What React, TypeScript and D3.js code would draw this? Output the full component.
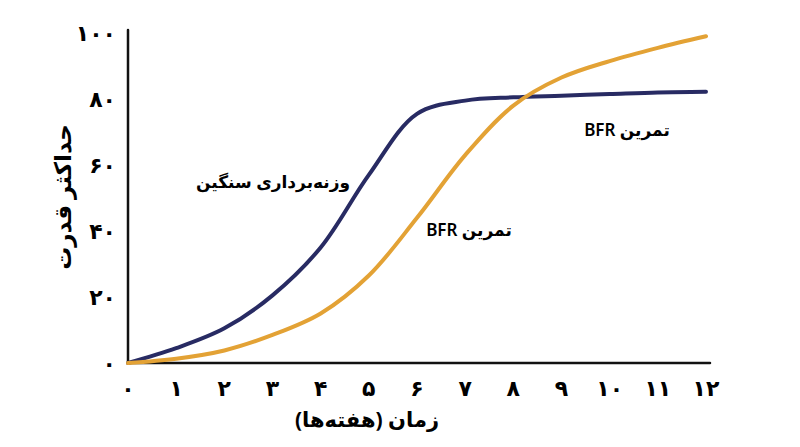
import { useEffect, useRef } from "react";
import * as d3 from "d3";

const weeks = [0, 1, 2, 3, 4, 5, 6, 7, 8, 9, 10, 11, 12];
const heavyLifting = [0, 4.5, 10.5, 20.5, 35, 57, 75.5, 79.5, 80.5, 81, 81.5, 82, 82.2];
const bfrTraining = [0, 1.3, 3.8, 8.5, 15, 26.5, 44, 63, 78, 86.5, 91.5, 95.5, 99];
const xTickLabels = ["۰", "۱", "۲", "۳", "۴", "۵", "۶", "۷", "۸", "۹", "۱۰", "۱۱", "۱۲"];
const yTicks = [0, 20, 40, 60, 80, 100];
const yTickLabels = ["۰", "۲۰", "۴۰", "۶۰", "۸۰", "۱۰۰"];

const FONT = "'Noto Sans', 'DejaVu Sans', sans-serif";

export default function App() {
  const ref = useRef<SVGSVGElement>(null);

  useEffect(() => {
    const svg = d3.select(ref.current);
    svg.selectAll("*").remove();
    const width = 800;
    const height = 447;
    svg.attr("width", width).attr("height", height);

    const x = d3.scaleLinear().domain([0, 12]).range([128, 706]);
    const y = d3.scaleLinear().domain([0, 100]).range([363, 33]);

    // axes (plain lines, no tick marks)
    svg
      .append("line")
      .attr("x1", x(0))
      .attr("x2", x(0))
      .attr("y1", y(100) - 3)
      .attr("y2", y(0))
      .attr("stroke", "#111")
      .attr("stroke-width", 2.5)
      .attr("stroke-linecap", "round");
    svg
      .append("line")
      .attr("x1", x(0))
      .attr("x2", x(12) + 4)
      .attr("y1", y(0))
      .attr("y2", y(0))
      .attr("stroke", "#111")
      .attr("stroke-width", 2.5)
      .attr("stroke-linecap", "round");

    svg
      .append("g")
      .selectAll("text")
      .data(yTicks)
      .enter()
      .append("text")
      .attr("x", 116)
      .attr("y", (d) => y(d) + 8)
      .attr("text-anchor", "end")
      .style("font-family", FONT)
      .style("font-weight", "bold")
      .style("font-size", "22px")
      .text((d, i) => yTickLabels[i]);

    svg
      .append("g")
      .selectAll("text")
      .data(weeks)
      .enter()
      .append("text")
      .attr("x", (d) => x(d))
      .attr("y", 396)
      .attr("text-anchor", "middle")
      .style("font-family", FONT)
      .style("font-weight", "bold")
      .style("font-size", "22px")
      .text((d, i) => xTickLabels[i]);

    const line = d3
      .line<number>()
      .x((d, i) => x(weeks[i]))
      .y((d) => y(d))
      .curve(d3.curveCatmullRom.alpha(0.5));

    const series = [
      { values: heavyLifting, color: "#282b63" },
      { values: bfrTraining, color: "#e3a235" },
    ];
    series.forEach((s) => {
      svg
        .append("path")
        .attr("d", line(s.values))
        .attr("fill", "none")
        .attr("stroke", s.color)
        .attr("stroke-width", 4)
        .attr("stroke-linecap", "round");
    });

    const labels = [
      { text: "وزنه‌برداری سنگین", x: 273, y: 188 },
      { text: "تمرین BFR", x: 469, y: 236 },
      { text: "تمرین BFR", x: 627, y: 136 },
    ];
    svg
      .append("g")
      .selectAll("text")
      .data(labels)
      .enter()
      .append("text")
      .attr("x", (d) => d.x)
      .attr("y", (d) => d.y)
      .attr("text-anchor", "middle")
      .attr("direction", "rtl")
      .style("font-family", FONT)
      .style("font-weight", 600)
      .style("font-size", "17px")
      .text((d) => d.text);

    svg
      .append("text")
      .attr("x", 367)
      .attr("y", 427)
      .attr("text-anchor", "middle")
      .attr("direction", "rtl")
      .style("font-family", FONT)
      .style("font-weight", "bold")
      .style("font-size", "21px")
      .text("زمان (هفته‌ها)");

    svg
      .append("text")
      .attr("transform", `translate(${71},${197}) rotate(-90)`)
      .attr("text-anchor", "middle")
      .attr("direction", "rtl")
      .style("font-family", FONT)
      .style("font-weight", "bold")
      .style("font-size", "23px")
      .text("حداکثر قدرت");
  }, []);

  return (
    <svg
      ref={ref}
      style={{ position: "absolute", left: 0, top: 0, background: "#fff" }}
    ></svg>
  );
}
